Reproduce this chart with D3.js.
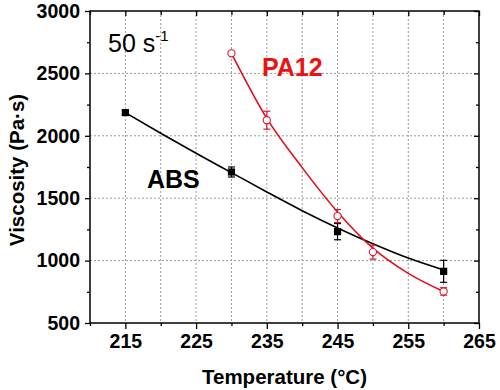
<!DOCTYPE html>
<html><head><meta charset="utf-8">
<script src="https://cdn.jsdelivr.net/npm/d3@7"></script>
<style>
html,body{margin:0;padding:0;background:#fff;}
svg{display:block;font-family:Arial,"Liberation Sans",sans-serif;}
</style></head>
<body><svg id="c" width="500" height="390"></svg>
<script>
// ---- data ----
const absTemps = [215, 230, 245, 260];
const absVisc  = [2186, 1710, 1232, 914];
const absErr   = [20, 40, 65, 88];

const pa12Temps = [230, 235, 245, 250, 260];
const pa12Visc  = [2661, 2125, 1357, 1068, 753];
const pa12Err   = [0, 72, 52, 56, 30];

// fitted curves
const absFitT = [215, 220, 225, 230, 235, 240, 245, 250, 255, 260];
const absFitV = [2186, 2020, 1860, 1705, 1550, 1400, 1262, 1135, 1020, 925];
const pa12FitT = [230, 235, 240, 245, 250, 255, 260];
const pa12FitV = [2661, 2140, 1745, 1390, 1100, 898, 752];

const xMajor = [215, 225, 235, 245, 255, 265];
const xMinor = [210, 220, 230, 240, 250, 260];
const yMajor = [500, 1000, 1500, 2000, 2500, 3000];
const yMinor = [750, 1250, 1750, 2250, 2750];
const xGrid = [215, 220, 225, 230, 235, 240, 245, 250, 255, 260];
const yGrid = [1000, 1500, 2000, 2500];

// ---- layout ----
const L = 90, R = 479, T = 11, B = 323;
const svg = d3.select("#c");
const x = d3.scaleLinear().domain([210, 265]).range([L, R]);
const y = d3.scaleLinear().domain([500, 3000]).range([B, T]);

// grid
const g = svg.append("g");
g.selectAll("line.vg").data(xGrid).join("line")
  .attr("x1", d => x(d)).attr("x2", d => x(d)).attr("y1", T).attr("y2", B)
  .attr("stroke", "#9a9a9a").attr("stroke-width", 1).attr("stroke-dasharray", "2,2");
g.selectAll("line.hg").data(yGrid).join("line")
  .attr("y1", d => y(d)).attr("y2", d => y(d)).attr("x1", L).attr("x2", R)
  .attr("stroke", "#9a9a9a").attr("stroke-width", 1).attr("stroke-dasharray", "2,2");

// axes
function styleAxis(sel) {
  sel.select(".domain").remove();
  sel.selectAll("line").attr("stroke", "#000").attr("stroke-width", 1.3);
}
svg.append("g").attr("transform", `translate(0,${B})`)
  .call(d3.axisBottom(x).tickValues(xMajor).tickSize(6).tickPadding(5).tickFormat(d3.format("d")))
  .call(styleAxis)
  .selectAll("text").attr("font-size", "19.5px").attr("font-weight", "bold").attr("fill", "#000")
  .attr("font-family", "Arial,'Liberation Sans',sans-serif");
svg.append("g").attr("transform", `translate(0,${B})`)
  .call(d3.axisBottom(x).tickValues(xMinor).tickSize(3).tickFormat(""))
  .call(styleAxis);
svg.append("g").attr("transform", `translate(${L},0)`)
  .call(d3.axisLeft(y).tickValues(yMajor).tickSize(5).tickPadding(5).tickFormat(d3.format("d")))
  .call(styleAxis)
  .selectAll("text").attr("font-size", "19.5px").attr("font-weight", "bold").attr("fill", "#000")
  .attr("font-family", "Arial,'Liberation Sans',sans-serif");
svg.append("g").attr("transform", `translate(${L},0)`)
  .call(d3.axisLeft(y).tickValues(yMinor).tickSize(3).tickFormat(""))
  .call(styleAxis);
// top & right inward ticks
svg.append("g").attr("transform", `translate(0,${T})`)
  .call(d3.axisBottom(x).tickValues(xMajor).tickSize(5).tickFormat("")).call(styleAxis);
svg.append("g").attr("transform", `translate(0,${T})`)
  .call(d3.axisBottom(x).tickValues(xMinor).tickSize(4).tickFormat("")).call(styleAxis);
svg.append("g").attr("transform", `translate(${R},0)`)
  .call(d3.axisLeft(y).tickValues(yMajor).tickSize(5).tickFormat("")).call(styleAxis);
svg.append("g").attr("transform", `translate(${R},0)`)
  .call(d3.axisLeft(y).tickValues(yMinor).tickSize(3).tickFormat("")).call(styleAxis);

// frame
svg.append("rect").attr("x", L).attr("y", T).attr("width", R - L).attr("height", B - T)
  .attr("fill", "none").attr("stroke", "#000").attr("stroke-width", 1.5);

// fit curves
const line = d3.line().x(d => x(d[0])).y(d => y(d[1])).curve(d3.curveMonotoneX);
const BLK = "#000", RED = "#e0101c", REDM = "#d41a34";
svg.append("path").datum(absFitT.map((t, i) => [t, absFitV[i]]))
  .attr("d", line).attr("fill", "none").attr("stroke", BLK).attr("stroke-width", 1.6);
svg.append("path").datum(pa12FitT.map((t, i) => [t, pa12FitV[i]]))
  .attr("d", line).attr("fill", "none").attr("stroke", RED).attr("stroke-width", 1.6);

// error bars
function errBars(ts, vs, es, color) {
  const d = ts.map((t, i) => ({t, v: vs[i], e: es[i]})).filter(o => o.e > 0);
  const eg = svg.append("g").attr("stroke", color).attr("stroke-width", 1.2);
  eg.selectAll("line.v").data(d).join("line")
    .attr("x1", o => x(o.t)).attr("x2", o => x(o.t))
    .attr("y1", o => y(o.v + o.e)).attr("y2", o => y(o.v - o.e));
  eg.selectAll("line.t").data(d).join("line")
    .attr("x1", o => x(o.t) - 3.5).attr("x2", o => x(o.t) + 3.5)
    .attr("y1", o => y(o.v + o.e)).attr("y2", o => y(o.v + o.e));
  eg.selectAll("line.b").data(d).join("line")
    .attr("x1", o => x(o.t) - 3.5).attr("x2", o => x(o.t) + 3.5)
    .attr("y1", o => y(o.v - o.e)).attr("y2", o => y(o.v - o.e));
}
errBars(absTemps, absVisc, absErr, BLK);
errBars(pa12Temps, pa12Visc, pa12Err, REDM);

// markers
svg.append("g").selectAll("rect").data(absTemps.map((t, i) => [t, absVisc[i]])).join("rect")
  .attr("x", d => x(d[0]) - 3.6).attr("y", d => y(d[1]) - 3.6)
  .attr("width", 7.2).attr("height", 7.2).attr("fill", "#000");
svg.append("g").selectAll("circle").data(pa12Temps.map((t, i) => [t, pa12Visc[i]])).join("circle")
  .attr("cx", d => x(d[0])).attr("cy", d => y(d[1])).attr("r", 3.6)
  .attr("fill", "#fff").attr("stroke", REDM).attr("stroke-width", 1.1);

// annotations
const rate = svg.append("text").attr("x", 108).attr("y", 52).attr("font-size", "25px").attr("fill", "#000");
rate.append("tspan").text("50 s");
rate.append("tspan").attr("font-size", "15px").attr("dy", -11).text("-1");
svg.append("text").attr("x", 147).attr("y", 187.5).attr("font-size", "25px").attr("font-weight", "bold")
  .attr("fill", "#000").text("ABS");
svg.append("text").attr("x", 262).attr("y", 76).attr("font-size", "25px").attr("font-weight", "bold")
  .attr("fill", "#ee1111").text("PA12");

// axis titles
svg.append("text").attr("x", (L + R) / 2).attr("y", 383.5).attr("text-anchor", "middle")
  .attr("font-size", "20.5px").attr("font-weight", "bold").attr("fill", "#000").text("Temperature (\u00B0C)");
svg.append("text").attr("transform", `translate(24,${(T + B) / 2 + 3}) rotate(-90)`).attr("text-anchor", "middle")
  .attr("font-size", "20.5px").attr("font-weight", "bold").attr("fill", "#000").text("Viscosity (Pa\u00B7s)");
</script></body></html>
